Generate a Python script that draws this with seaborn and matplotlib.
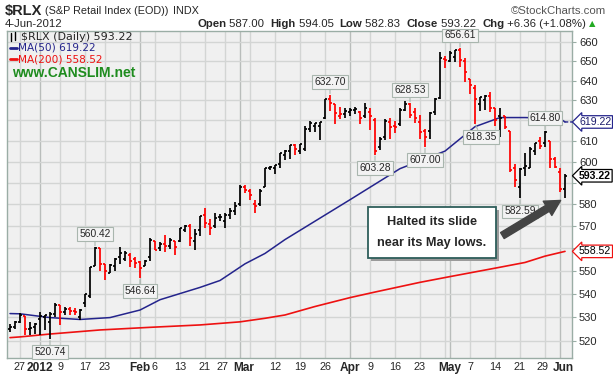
import numpy as np
import pandas as pd
import matplotlib
matplotlib.use("Agg")
import matplotlib.pyplot as plt
import matplotlib.transforms as mtrans
import seaborn as sns
from matplotlib.lines import Line2D
from matplotlib.patches import Rectangle, FancyArrowPatch
from matplotlib.ticker import FixedLocator, NullLocator

# ---------------- data ----------------
holidays = ["2011-12-26", "2012-01-02", "2012-01-16", "2012-02-20", "2012-04-06", "2012-05-28"]
dates = pd.bdate_range("2011-12-22", "2012-06-04", freq="C", holidays=holidays)

opens = [525.0, 526.0, 528.0, 530.5, 525.0, 526.0, 529.0, 530.0, 528.0, 531.5,
         535.0, 532.0, 533.5, 532.5, 530.0, 536.0, 539.0, 552.0, 560.0, 553.0,
         549.0, 552.0, 556.0, 555.0, 557.0, 555.0, 554.0, 552.0, 556.0, 563.0,
         560.0, 562.0, 561.0, 563.0, 563.0, 568.0, 570.0, 563.0, 568.0, 575.0,
         571.0, 570.0, 574.0, 572.0, 575.0, 577.0, 580.0, 588.0, 586.0, 580.0,
         580.0, 588.0, 597.0, 597.0, 599.0, 603.0, 605.0, 608.0, 605.0, 606.0,
         616.0, 617.0, 617.0, 621.0, 630.5, 628.0, 622.0, 623.0, 624.0, 625.0,
         624.0, 622.0, 624.0, 620.0, 607.0, 612.0, 619.0, 617.0, 618.0, 625.0,
         628.0, 624.0, 619.0, 615.0, 615.0, 624.0, 631.0, 651.0, 650.0, 652.0,
         656.0, 650.0, 641.0, 636.0, 628.0, 630.0, 632.0, 626.0, 622.0, 622.0,
         615.0, 597.0, 588.0, 597.0, 597.0, 605.0, 610.0, 609.0, 610.0, 601.0,
         595.0, 587.00]
highs = [527.0, 528.5, 531.8, 530.5, 528.0, 527.5, 532.2, 530.8, 532.0, 536.0,
         535.0, 534.5, 534.4, 534.0, 533.6, 540.0, 551.6, 560.42, 560.2, 553.0,
         553.0, 555.5, 560.3, 558.5, 557.7, 556.0, 554.2, 554.5, 564.7, 563.0,
         562.5, 566.0, 564.5, 563.0, 569.0, 570.5, 571.0, 568.4, 574.6, 578.0,
         573.0, 576.0, 575.5, 576.0, 578.0, 581.0, 589.0, 589.0, 587.0, 582.0,
         587.0, 597.0, 598.0, 598.5, 604.0, 605.5, 608.0, 608.5, 608.5, 617.0,
         619.5, 618.8, 619.0, 630.5, 632.70, 628.0, 626.5, 626.0, 626.0, 626.5,
         624.5, 628.5, 626.0, 621.0, 612.0, 620.5, 621.0, 619.5, 626.0, 629.5,
         628.53, 626.0, 622.7, 616.0, 624.0, 631.0, 655.0, 652.5, 655.5, 656.0,
         656.61, 651.5, 641.0, 637.6, 631.8, 632.5, 634.0, 626.0, 626.0, 622.0,
         615.0, 599.0, 597.0, 604.0, 607.0, 609.0, 612.0, 614.80, 610.0, 602.0,
         597.0, 594.05]
lows = [523.7, 524.8, 527.5, 522.5, 522.5, 522.8, 522.5, 524.6, 520.74, 530.0,
        526.8, 531.0, 531.0, 531.0, 528.8, 534.4, 538.0, 551.9, 550.0, 546.0,
        549.0, 549.7, 553.0, 554.3, 551.5, 551.0, 546.64, 552.0, 554.3, 559.3,
        558.5, 558.3, 559.5, 556.7, 562.5, 567.0, 560.8, 559.3, 565.4, 569.0,
        566.0, 569.0, 572.0, 569.0, 573.0, 575.0, 579.0, 585.0, 582.0, 576.0,
        579.0, 588.0, 596.0, 594.0, 597.0, 600.5, 601.0, 603.0, 603.5, 604.9,
        614.5, 614.5, 610.6, 620.5, 624.5, 618.0, 620.5, 621.0, 622.0, 623.0,
        618.0, 621.0, 615.5, 603.28, 605.5, 610.6, 611.0, 613.6, 617.0, 624.5,
        621.0, 618.5, 611.0, 607.00, 611.0, 622.7, 630.5, 646.3, 649.5, 649.5,
        647.0, 639.5, 633.0, 618.35, 624.5, 625.0, 624.0, 617.0, 612.0, 616.0,
        595.0, 588.0, 582.59, 593.0, 597.0, 603.0, 606.0, 607.0, 597.0, 597.0,
        585.5, 582.83]
closes = [526.0, 528.0, 531.0, 525.0, 525.5, 527.0, 530.5, 530.8, 531.5, 535.0,
          532.0, 533.5, 532.5, 532.0, 533.2, 540.0, 551.5, 560.0, 553.0, 549.7,
          552.6, 555.0, 557.7, 557.9, 554.4, 553.3, 551.0, 554.3, 563.8, 559.3,
          561.8, 561.0, 563.5, 560.5, 569.0, 570.0, 564.7, 566.5, 574.5, 571.2,
          569.0, 573.8, 574.2, 575.0, 577.0, 579.0, 588.0, 586.5, 584.0, 579.0,
          586.0, 597.0, 597.5, 598.2, 604.0, 605.0, 608.0, 606.0, 608.3, 615.9,
          618.5, 618.7, 619.0, 630.5, 628.5, 623.5, 623.0, 624.5, 625.0, 625.5,
          621.0, 626.0, 622.0, 605.0, 611.0, 619.5, 616.8, 616.5, 625.0, 628.3,
          622.7, 621.0, 614.3, 612.0, 623.5, 630.5, 651.5, 650.6, 654.0, 656.0,
          650.6, 644.5, 637.5, 630.9, 631.5, 632.0, 626.0, 620.0, 621.0, 616.5,
          595.8, 591.2, 596.5, 598.0, 606.0, 608.8, 607.5, 614.5, 601.0, 597.5,
          586.86, 593.22]

ma50_dates = ["2011-12-22", "2011-12-27", "2012-01-05", "2012-01-13", "2012-01-24",
              "2012-02-01", "2012-02-07", "2012-02-17", "2012-02-24", "2012-02-28",
              "2012-03-02", "2012-03-08", "2012-03-14", "2012-04-02", "2012-04-17",
              "2012-04-30", "2012-05-08", "2012-05-15", "2012-05-22", "2012-06-01",
              "2012-06-04"]
ma50_vals = [531.5, 531.4, 529.8, 529.0, 529.8, 533.0, 537.4, 542.7, 545.7, 548.6,
             553.0, 557.6, 563.8, 582.0, 596.6, 605.0, 616.9, 621.4, 621.4, 620.9,
             619.22]

ma200_dates = ["2011-12-22", "2011-12-27", "2012-01-05", "2012-01-20", "2012-02-03",
               "2012-02-17", "2012-03-01", "2012-03-08", "2012-03-14", "2012-03-22",
               "2012-04-02", "2012-04-10", "2012-04-23", "2012-05-01", "2012-05-15",
               "2012-05-22", "2012-05-29", "2012-06-04"]
ma200_vals = [521.4, 521.7, 522.9, 524.6, 525.7, 526.7, 528.0, 529.5, 530.9, 534.5,
              538.3, 540.7, 544.9, 547.4, 551.5, 553.6, 556.4, 558.52]

annotated = [("2012-01-05", "low"), ("2012-01-19", "high"), ("2012-02-01", "low"),
             ("2012-03-27", "high"), ("2012-04-10", "low"), ("2012-04-19", "high"),
             ("2012-04-24", "low"), ("2012-05-03", "high"), ("2012-05-08", "low"),
             ("2012-05-21", "low"), ("2012-05-29", "high")]

y_ticks = [520, 530, 540, 550, 560, 570, 580, 590, 600, 610, 620, 630, 640, 650, 660]
tick_dates = ["2011-12-27", "2012-01-03", "2012-01-09", "2012-01-17", "2012-01-23",
              "2012-01-30", "2012-02-01", "2012-02-06", "2012-02-13", "2012-02-21",
              "2012-02-27", "2012-03-01", "2012-03-05", "2012-03-12", "2012-03-19",
              "2012-03-26", "2012-04-02", "2012-04-09", "2012-04-16", "2012-04-23",
              "2012-04-30", "2012-05-01", "2012-05-07", "2012-05-14", "2012-05-21",
              "2012-05-29", "2012-06-01"]
tick_labels = ["27", "2012", "9", "17", "23", "", "Feb", "6", "13", "21", "27", "Mar",
               "", "12", "19", "26", "Apr", "9", "16", "23", "", "May", "7", "14",
               "21", "29", "Jun"]
month_starts = ["2012-01-03", "2012-02-01", "2012-03-01", "2012-04-02", "2012-05-01",
                "2012-06-01"]

# ---------------- figure ----------------
sns.set_style("white")
plt.rcParams["font.family"] = ["DejaVu Sans"]
W, H = 613, 376
fig = plt.figure(figsize=(W / 100, H / 100), dpi=100)
fig.patch.set_facecolor("white")


def fx(x):
    return x / W


def fy(y):
    return 1 - y / H


ax = fig.add_axes([fx(7), fy(358), fx(572) - fx(7), fy(31) - fy(358)])
ax.set_facecolor("#F0F0F0")
ax.set_yscale("log")

pos = {d: k for k, d in enumerate(dates.strftime("%Y-%m-%d"))}
x = np.arange(len(dates))
prev = [closes[0]] + closes[:-1]
cols = ["#FF0000" if c < p else "#000000" for c, p in zip(closes, prev)]

# grid
for d in tick_dates:
    c = "#B9BDBB" if d in month_starts else "#D3D5D4"
    ax.axvline(pos[d], color=c, lw=1.0, zorder=0)
for v in y_ticks:
    ax.axhline(v, color="#D3D5D4", lw=1.0, zorder=0)

# MAs
sns.lineplot(x=[pos[d] for d in ma200_dates], y=ma200_vals, ax=ax, color="#EE1111",
             lw=1.2, zorder=2, sort=False, estimator=None)
sns.lineplot(x=[pos[d] for d in ma50_dates], y=ma50_vals, ax=ax, color="#24248C",
             lw=1.1, zorder=2, sort=False, estimator=None)

# OHLC bars
ax.vlines(x, lows, highs, colors=cols, lw=1.25, zorder=3)
ax.hlines(opens, x - 0.48, x, colors=cols, lw=1.25, zorder=3)
ax.hlines(closes, x, x + 0.48, colors=cols, lw=1.25, zorder=3)

ax.set_xlim(-0.6, 112.4)
ax.set_ylim(513.0, 665.8)
ax.set_xlabel("")
ax.set_ylabel("")

# dashed connector from the MA(50) end to its tag
ax.annotate("", xy=(1, ma50_vals[-1]), xycoords=("axes fraction", "data"),
            xytext=(pos[ma50_dates[-1]], ma50_vals[-1]), textcoords="data",
            arrowprops=dict(arrowstyle="-", color="#24248C", lw=1.0, ls=(0, (2, 2)),
                            shrinkA=0, shrinkB=0), annotation_clip=False)

tags = [ma50_vals[-1], closes[-1], ma200_vals[-1]]
ax.yaxis.tick_right()
ax.yaxis.set_major_locator(FixedLocator(y_ticks))
ax.yaxis.set_minor_locator(NullLocator())
ax.set_yticklabels(["" if min(abs(v - t) for t in tags) < 4.5 else str(v) for v in y_ticks])
ax.tick_params(axis="y", which="major", length=3, color="#9AADA5", labelsize=8, pad=2)
for t in ax.get_yticklabels():
    t.set_fontfamily("Liberation Sans")

ax.set_xticks([pos[d] for d in tick_dates])
ax.set_xticklabels(tick_labels)
ax.tick_params(axis="x", length=0, labelsize=7.8, pad=3)
shift_right = mtrans.ScaledTranslation(2.5 / 72, 0, fig.dpi_scale_trans)
shift_left = mtrans.ScaledTranslation(-1.5 / 72, 0, fig.dpi_scale_trans)
labels = ax.get_xticklabels()
for k, t in enumerate(labels):
    t.set_fontfamily("Liberation Sans")
    if t.get_text() in ("2012", "Feb", "Mar", "Apr", "May", "Jun"):
        t.set_fontweight("bold")
        t.set_fontsize(8.6)
        if t.get_text() in ("Mar", "Jun"):
            t.set_transform(t.get_transform() + shift_right)
    elif k + 1 < len(labels) and labels[k + 1].get_text() in ("Mar", "Jun"):
        t.set_transform(t.get_transform() + shift_left)

for s in ax.spines.values():
    s.set_color("#9AADA5")
    s.set_linewidth(1.0)

# price labels
box_style = dict(boxstyle="square,pad=0.18", fc="#F3F3F3", ec="#A9B6AE", lw=0.8)
for d, kind in annotated:
    i = pos[d]
    if kind == "high":
        val, dy = highs[i], 13
    else:
        val, dy = lows[i], -13
    dx = 6 if d == "2012-05-08" else 0
    ax.annotate(f"{val:.2f}", xy=(i, val), xytext=(dx, dy), textcoords="offset pixels",
                ha="center", va="center", fontsize=7.4, family="Liberation Sans",
                bbox=box_style, zorder=6,
                arrowprops=dict(arrowstyle="-", color="#A9B6AE", lw=0.8,
                                shrinkA=0, shrinkB=1))

# right-hand value tags
tag_specs = [(ma50_vals[-1], "#24248C", "#1A1A6A", "normal"),
             (closes[-1], "black", "black", "bold"),
             (ma200_vals[-1], "#EE1111", "black", "normal")]
for val, ec, tc, wt in tag_specs:
    ax.annotate(f"{val:.2f}", xy=(1, val), xycoords=("axes fraction", "data"),
                xytext=(7, 0), textcoords="offset pixels", ha="left", va="center",
                fontsize=7.6, family="Liberation Sans", color=tc, fontweight=wt,
                bbox=dict(boxstyle="larrow,pad=0.12", fc="white", ec=ec, lw=0.9),
                annotation_clip=False, zorder=10)

# ---------------- header ----------------
hfs = 8.2
fig.text(fx(5), fy(11), "$RLX", fontsize=10.5, fontweight="bold", family="Liberation Sans",
         va="center", ha="left")
fig.text(fx(45), fy(11), "(S&P Retail Index (EOD))", fontsize=7.8, family="Liberation Sans",
         va="center", ha="left")
fig.text(fx(173), fy(11), "INDX", fontsize=7.8, family="Liberation Sans", va="center", ha="left")
fig.text(fx(606), fy(11), "\u00a9StockCharts.com", fontsize=hfs, family="Liberation Sans",
         va="center", ha="right", color="#555555")
fig.text(fx(5), fy(24), "4-Jun-2012", fontsize=hfs, family="Liberation Sans", va="center", ha="left")

chg = closes[-1] - closes[-2]
parts = [("Open", "bold"), (f" {opens[-1]:.2f}  ", "normal"),
         ("High", "bold"), (f" {highs[-1]:.2f}  ", "normal"),
         ("Low", "bold"), (f" {lows[-1]:.2f}  ", "normal"),
         ("Close", "bold"), (f" {closes[-1]:.2f}  ", "normal"),
         ("Chg", "bold"), (f" +{chg:.2f} (+{chg / closes[-2] * 100:.2f}%)", "normal")]
prev_t = fig.text(fx(197), fy(24), parts[0][0], fontsize=hfs, fontweight=parts[0][1],
                  family="Liberation Sans", va="center", ha="left")
for txt, wt in parts[1:]:
    prev_t = ax.annotate(txt, xy=(1, 0), xycoords=prev_t, xytext=(0, 0),
                         textcoords="offset points", va="bottom", ha="left",
                         fontsize=hfs, fontweight=wt, family="Liberation Sans",
                         annotation_clip=False)
ax.annotate("\u25B2", xy=(1, 0), xycoords=prev_t, xytext=(2, 1), textcoords="offset points",
            va="bottom", ha="left", fontsize=6, color="#22AA22", annotation_clip=False)

# ---------------- legend inside plot ----------------
fig.lines.append(Line2D([fx(11), fx(11)], [fy(33), fy(41)], color="black", lw=1, transform=fig.transFigure))
fig.lines.append(Line2D([fx(15), fx(15)], [fy(32), fy(40)], color="black", lw=1, transform=fig.transFigure))
fig.text(fx(21), fy(37), f"$RLX (Daily) {closes[-1]:.2f}", fontsize=8, va="center", ha="left")
fig.lines.append(Line2D([fx(10), fx(17)], [fy(48), fy(48)], color="#24248C", lw=2, transform=fig.transFigure))
fig.text(fx(18), fy(48), f"MA(50) {ma50_vals[-1]:.2f}", fontsize=7.6, va="center", ha="left",
         color="#24248C")
fig.lines.append(Line2D([fx(10), fx(17)], [fy(59), fy(59)], color="#EE1111", lw=2, transform=fig.transFigure))
fig.text(fx(18), fy(59), f"MA(200) {ma200_vals[-1]:.2f}", fontsize=7.6, va="center", ha="left",
         color="#EE1111")
fig.text(fx(12), fy(73), "www.CANSLIM.net", fontsize=10, fontweight="bold",
         family="Liberation Sans", va="center", ha="left", color="#1E8C1E")

# ---------------- callout ----------------
fig.patches.append(Rectangle((fx(371), fy(261)), fx(128), fy(210) - fy(261), transform=fig.transFigure,
                             fc="#9A9A9A", ec="none", zorder=7))
fig.patches.append(Rectangle((fx(368), fy(258)), fx(128), fy(207) - fy(258), transform=fig.transFigure,
                             fc="white", ec="#2E5E5A", lw=1.3, zorder=8))
fig.text(fx(432), fy(222), "Halted its slide", fontsize=9.2, fontweight="bold",
         family="Liberation Sans", ha="center", va="center", zorder=9)
fig.text(fx(432), fy(243), "near its May lows.", fontsize=9.2, fontweight="bold",
         family="Liberation Sans", ha="center", va="center", zorder=9)
fig.patches.append(FancyArrowPatch((fx(500), fy(237)), (fx(563), fy(199)), transform=fig.transFigure,
                                   arrowstyle="simple,head_length=11,head_width=12,tail_width=5",
                                   mutation_scale=1, color="#444444", zorder=9))

fig.savefig("out.png", dpi=100)
